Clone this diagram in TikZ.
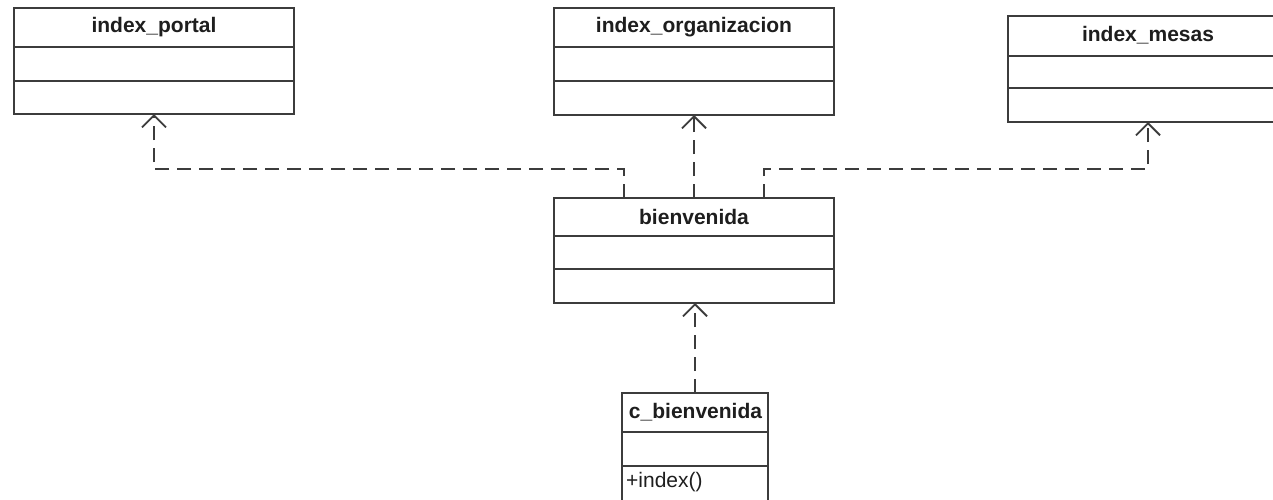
\documentclass[tikz,border=0pt]{standalone}
\usepackage{fontspec}
\setmainfont{Liberation Sans}
\usetikzlibrary{arrows.meta,calc}
\definecolor{linec}{HTML}{3C3C3C}
\definecolor{txtc}{HTML}{1E1E1E}
\tikzset{
  classbox/.style={draw=linec, line width=1.7pt, fill=white, inner sep=0pt, outer sep=0pt},
  divider/.style={draw=linec, line width=1.7pt},
  title/.style={font=\bfseries\fontsize{21}{24}\selectfont, text=txtc, inner sep=0pt},
  member/.style={font=\fontsize{21}{24}\selectfont, text=txtc, inner sep=0pt, anchor=west},
  dep/.style={draw=linec, line width=1.8pt, dash pattern=on 14pt off 8pt,
    -{Straight Barb[length=12pt, width=24pt]}},
}
\begin{document}
\begin{tikzpicture}[x=1pt, y=-1pt]
\useasboundingbox (0,0) rectangle (1273,499);
\fill[white] (0,0) rectangle (1273,499);
\clip (0,0) rectangle (1273,499);

% index_portal
\node[classbox, minimum width=280pt, minimum height=106pt] (portal) at (154,61) {};
\draw[divider] (portal.west |- 0,47) -- (portal.east |- 0,47);
\draw[divider] (portal.west |- 0,81) -- (portal.east |- 0,81);
\node[title] (portalt) at (154,27.5) {index\_portal};

% index_organizacion
\node[classbox, minimum width=280pt, minimum height=107pt] (org) at (694,61.5) {};
\draw[divider] (org.west |- 0,47) -- (org.east |- 0,47);
\draw[divider] (org.west |- 0,81) -- (org.east |- 0,81);
\node[title] (orgt) at (694,27.5) {index\_organizacion};

% index_mesas
\node[classbox, minimum width=280pt, minimum height=106pt] (mesas) at (1148,69) {};
\draw[divider] (mesas.west |- 0,56) -- (mesas.east |- 0,56);
\draw[divider] (mesas.west |- 0,88) -- (mesas.east |- 0,88);
\node[title] (mesast) at (1148,35.5) {index\_mesas};

% bienvenida
\node[classbox, minimum width=280pt, minimum height=105pt] (bien) at (694,250.5) {};
\draw[divider] (bien.west |- 0,236) -- (bien.east |- 0,236);
\draw[divider] (bien.west |- 0,269) -- (bien.east |- 0,269);
\node[title] (bient) at (694,217) {bienvenida};

% c_bienvenida
\node[classbox, minimum width=146pt, minimum height=110pt] (cb) at (695,448) {};
\draw[divider] (cb.west |- 0,432) -- (cb.east |- 0,432);
\draw[divider] (cb.west |- 0,466) -- (cb.east |- 0,466);
\node[title] (cbt) at (695.5,412.5) {c\_bienvenida};
\node[member] (cbm) at (626,482) {+index()};

% dependencies
\coordinate (bus) at (0,169);
\draw[dep] ([xshift=-70pt]bien.north) |- (portal.south |- bus) -- (portal.south);
\draw[dep] (bien.north) -- (org.south);
\draw[dep] ([xshift=70pt]bien.north) |- (mesas.south |- bus) -- (mesas.south);
\draw[dep] (cb.north) -- (cb.north |- bien.south);
\end{tikzpicture}
\end{document}
